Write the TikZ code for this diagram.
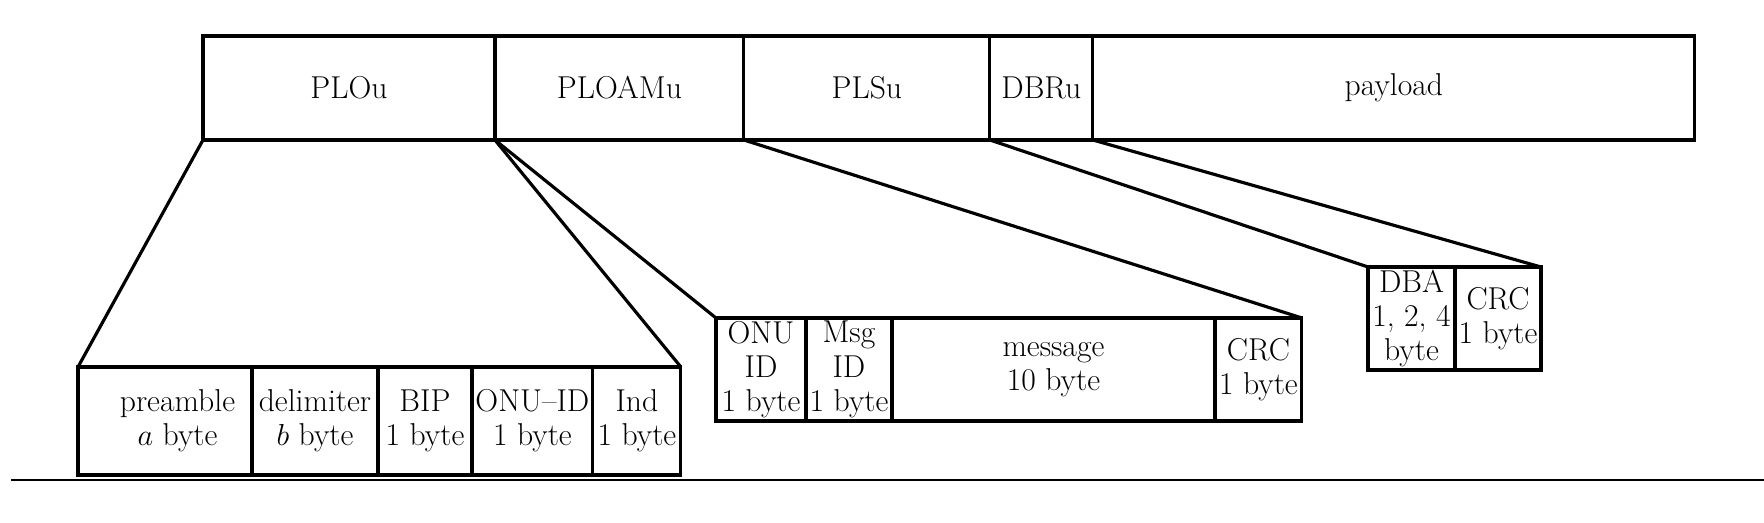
\documentclass[tikz,border=0pt]{standalone}
\usepackage{tikz}
\usetikzlibrary{positioning}

\begin{document}
\begin{tikzpicture}[
        x=0.02cm, y=-0.02cm,
        every node/.style={draw, line width=1.8pt, inner sep=0pt, outer sep=0pt, align=center,
            font=\fontsize{18}{19.5}\selectfont},
        top/.style={minimum height=2.08cm},
        plo/.style={minimum height=2.16cm},
        ploam/.style={minimum height=2.06cm},
        dbr/.style={minimum height=2.06cm},
        fan/.style={line width=1.8pt, line join=round}
    ]
        \useasboundingbox (0,0) rectangle (1764,523);

        % Hàng trên: khung upstream
        \node [top, minimum width=5.84cm, anchor=north west] (PLOu) at (203,36) {PLOu};
        \node [top, minimum width=4.98cm, right=0pt of PLOu] (PLOAMu) {PLOAMu};
        \node [top, minimum width=4.92cm, right=0pt of PLOAMu] (PLSu) {PLSu};
        \node [top, minimum width=2.06cm, right=0pt of PLSu] (DBRu) {DBRu};
        \node [top, minimum width=12.04cm, right=0pt of DBRu] (payload) {payload};

        % PLOu
        \node [plo, minimum width=3.48cm, anchor=north west] (pre) at (78,367) {\hspace*{0.5cm}preamble\\\hspace*{0.5cm}$a$ byte};
        \node [plo, minimum width=2.52cm, right=0pt of pre] (delim) {delimiter\\$b$ byte};
        \node [plo, minimum width=1.88cm, right=0pt of delim] (BIP) {BIP\\1 byte};
        \node [plo, minimum width=2.42cm, right=0pt of BIP] (onu) {ONU--ID\\1 byte};
        \node [plo, minimum width=1.76cm, right=0pt of onu] (Ind) {Ind\\1 byte};

        % PLOAMu
        \node [ploam, minimum width=1.80cm, anchor=north west] (onuid) at (716,318) {ONU\\ID\\1 byte};
        \node [ploam, minimum width=1.72cm, right=0pt of onuid] (msgid) {Msg\\ID\\1 byte};
        \node [ploam, minimum width=6.46cm, right=0pt of msgid] (msg) {message\\10 byte};
        \node [ploam, minimum width=1.74cm, right=0pt of msg] (crcA) {CRC\\1 byte};

        % DBRu
        \node [dbr, minimum width=1.74cm, anchor=north west] (DBA) at (1368,267) {DBA\\1, 2, 4\\byte};
        \node [dbr, minimum width=1.72cm, right=0pt of DBA] (crcB) {CRC\\1 byte};

        % Các đường mở rộng
        \draw[fan] (PLOu.south west) -- (pre.north west);
        \draw[fan] (PLOu.south east) -- (Ind.north east);
        \draw[fan] (PLOAMu.south west) -- (onuid.north west);
        \draw[fan] (PLOAMu.south east) -- (crcA.north east);
        \draw[fan] (DBRu.south west) -- (DBA.north west);
        \draw[fan] (DBRu.south east) -- (crcB.north east);

        % Đường kẻ dưới
        \draw[line width=1.2pt] (11,480) -- (1764,480);
    \end{tikzpicture}
\end{document}
